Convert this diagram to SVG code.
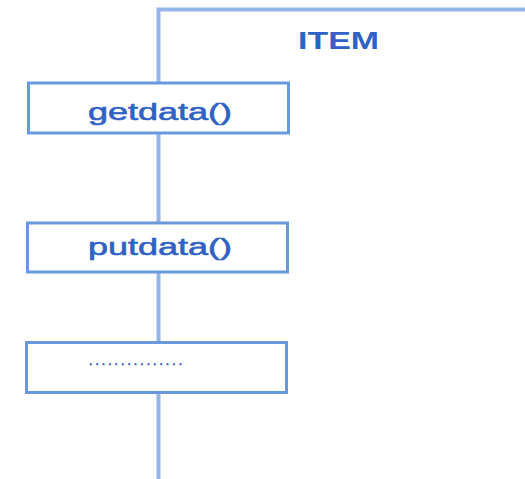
<svg xmlns="http://www.w3.org/2000/svg" width="525" height="479" viewBox="0 0 525 479">
  <style>
    .lifeline { stroke: #94b6e6; stroke-width: 4; fill: none; }
    .box { fill: #ffffff; stroke: #6a98dc; stroke-width: 3; }
    .title { font-family: "Liberation Sans", Arial, sans-serif; font-weight: bold; fill: #2f62c4; }
    .label { font-family: "Liberation Sans", Arial, sans-serif; font-weight: normal; fill: #2f62c4; stroke: #2f62c4; stroke-width: 0.6; }
  </style>
  <rect width="525" height="479" fill="#ffffff"/>

  <!-- connectors: object frame edge and lifeline -->
  <g id="connectors">
    <polyline class="lifeline" points="525,9.5 158.5,9.5 158.5,479"/>
  </g>

  <g id="item-title">
    <text class="title" x="298" y="49" font-size="23" textLength="81" lengthAdjust="spacingAndGlyphs">ITEM</text>
  </g>

  <g id="getdata">
    <rect class="box" x="28.5" y="83" width="260" height="50"/>
    <text class="label" x="88" y="120" font-size="24" textLength="144" lengthAdjust="spacingAndGlyphs">getdata()</text>
  </g>

  <g id="putdata">
    <rect class="box" x="27.5" y="223" width="260" height="49"/>
    <text class="label" x="88" y="255" font-size="24" textLength="144" lengthAdjust="spacingAndGlyphs">putdata()</text>
  </g>

  <g id="more">
    <rect class="box" x="26.5" y="342.5" width="260" height="50"/>
    <text class="label" x="89" y="365" font-size="12" textLength="93" lengthAdjust="spacing">...............</text>
  </g>
</svg>
